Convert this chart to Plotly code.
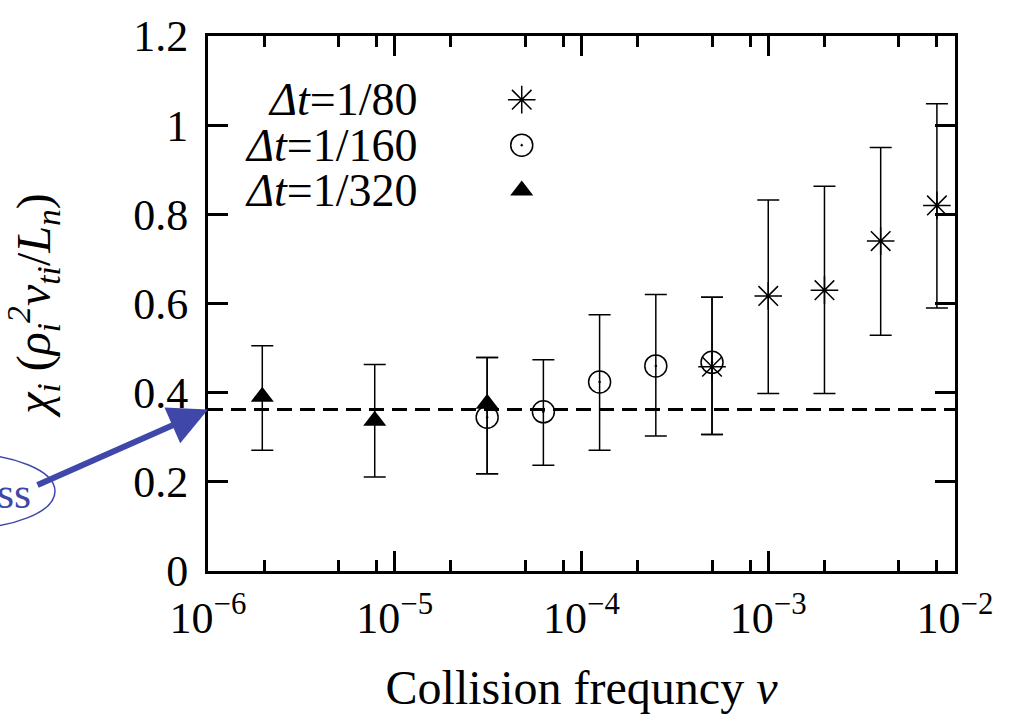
import plotly.graph_objects as go

# ---------------- data ----------------
nu_80 = [5e-4, 1e-3, 2e-3, 4e-3, 8e-3]
chi_80 = [0.458, 0.617, 0.630, 0.740, 0.820]
hi_80 = [0.614, 0.832, 0.863, 0.950, 1.048]
lo_80 = [0.306, 0.398, 0.398, 0.529, 0.590]

nu_160 = [3.125e-5, 6.25e-5, 1.25e-4, 2.5e-4, 5e-4]
chi_160 = [0.345, 0.357, 0.424, 0.460, 0.468]
hi_160 = [0.479, 0.474, 0.575, 0.620, 0.614]
lo_160 = [0.218, 0.237, 0.271, 0.303, 0.306]

nu_320 = [1.953e-6, 7.8125e-6, 3.125e-5]
chi_320 = [0.391, 0.337, 0.375]
hi_320 = [0.505, 0.463, 0.479]
lo_320 = [0.271, 0.211, 0.218]

chi_ref = 0.362

series_labels = ["<i>Δt</i>=1/80", "<i>Δt</i>=1/160", "<i>Δt</i>=1/320"]

x_tickvals = [1e-6, 1e-5, 1e-4, 1e-3, 1e-2]
x_ticktext = ["10<sup>−6</sup>", "10<sup>−5</sup>", "10<sup>−4</sup>", "10<sup>−3</sup>", "10<sup>−2</sup>"]
x_minor = [m * 10.0 ** k for k in range(-6, -2) for m in (2, 5, 8)]
y_tickvals = [0, 0.2, 0.4, 0.6, 0.8, 1.0, 1.2]
y_ticktext = ["0", "0.2", "0.4", "0.6", "0.8", "1", "1.2"]

FONT = "Liberation Serif, Times New Roman, DejaVu Serif, serif"
BLUE = "#3f48a8"

def errs(y, hi, lo):
    return dict(type="data", symmetric=False,
                array=[h - v for h, v in zip(hi, y)],
                arrayminus=[v - l for v, l in zip(y, lo)],
                color="black", thickness=1.5, width=11)

fig = go.Figure()

fig.add_trace(go.Scatter(
    x=nu_160, y=chi_160, mode="markers", name=series_labels[1],
    marker=dict(symbol="circle-open-dot", size=22, color="black", line=dict(width=1.5, color="black")),
    error_y=errs(chi_160, hi_160, lo_160), showlegend=False))
fig.add_trace(go.Scatter(
    x=nu_320, y=chi_320, mode="markers", name=series_labels[2],
    marker=dict(symbol="triangle-up", size=20, color="black", line=dict(width=0)),
    error_y=errs(chi_320, hi_320, lo_320), showlegend=False))
fig.add_trace(go.Scatter(
    x=nu_80, y=chi_80, mode="markers", name=series_labels[0],
    marker=dict(symbol="asterisk-open", size=23, color="black", line=dict(width=1.5, color="black")),
    error_y=errs(chi_80, hi_80, lo_80), showlegend=False))

# legend keys on a helper overlay axis (fractions of the plot area)
key_x = [0.42, 0.42, 0.42]
key_y = [0.881, 0.796, 0.711]
key_symbols = ["asterisk-open", "circle-open-dot", "triangle-up"]
key_sizes = [23, 22, 20]
for i in range(3):
    fig.add_trace(go.Scatter(
        x=[key_x[i]], y=[key_y[i]], xaxis="x2", yaxis="y2", mode="markers",
        marker=dict(symbol=key_symbols[i], size=key_sizes[i], color="black",
                    line=dict(width=1.5 if i < 2 else 0, color="black")),
        showlegend=False, hoverinfo="skip"))
    fig.add_annotation(x=0.284, y=key_y[i], xref="paper", yref="paper",
                       text=series_labels[i], showarrow=False, xanchor="right", yanchor="middle",
                       font=dict(family=FONT, size=46, color="black"))

# reference dashed line
fig.add_shape(type="line", xref="paper", yref="y", x0=0, x1=1, y0=chi_ref, y1=chi_ref,
              line=dict(color="black", width=3, dash="15px,8px"))

# blue arrow + ellipse callout (cut at the left edge)
fig.add_annotation(x=-6, y=chi_ref, xref="x", yref="y", text="", showarrow=True,
                   ax=-172, ay=76, axref="pixel", ayref="pixel",
                   arrowhead=2, arrowsize=1.3, arrowwidth=6, arrowcolor=BLUE, standoff=0)
fig.add_shape(type="circle", xref="paper", yref="paper",
              x0=(-130 - 208) / 747, x1=(55 - 208) / 747,
              y0=(571 - 528) / 543, y1=(571 - 452) / 543,
              line=dict(color=BLUE, width=1.5))
fig.add_annotation(x=(33 - 208) / 747, y=(571 - 492) / 543, xref="paper", yref="paper",
                   text="ss", showarrow=False, xanchor="right", yanchor="middle",
                   font=dict(family=FONT, size=44, color=BLUE))

axis_common = dict(showline=True, linecolor="black", linewidth=3, mirror="allticks",
                   ticks="inside", tickcolor="black", tickwidth=3, ticklen=20,
                   showgrid=False, zeroline=False,
                   tickfont=dict(family=FONT, size=44, color="black"))

fig.update_layout(
    width=1012, height=718,
    margin=dict(l=208, r=57, t=28, b=147),
    paper_bgcolor="white", plot_bgcolor="white",
    font=dict(family=FONT, color="black"),
    xaxis=dict(type="log", range=[-6, -2], tickmode="array", tickvals=x_tickvals, ticktext=x_ticktext,
               minor=dict(tickmode="array", tickvals=x_minor, ticks="inside", ticklen=11,
                          tickwidth=3, tickcolor="black", showgrid=False),
               ticklabelstandoff=6,
               title=dict(text="Collision frequncy <i>ν</i>", font=dict(family=FONT, size=48), standoff=29),
               **axis_common),
    yaxis=dict(range=[0, 1.2], tickmode="array", tickvals=y_tickvals, ticktext=y_ticktext,
               ticklabelstandoff=8,
               title=dict(text="<i>χ<sub>i</sub></i> (<i>ρ<sub>i</sub><sup>2</sup>v<sub>ti</sub></i>/<i>L<sub>n</sub></i>)",
                          font=dict(family=FONT, size=48), standoff=70),
               **axis_common),
    xaxis2=dict(overlaying="x", range=[0, 1], visible=False, fixedrange=True),
    yaxis2=dict(overlaying="y", range=[0, 1], visible=False, fixedrange=True),
    showlegend=False,
)

fig.write_html("out.html")
